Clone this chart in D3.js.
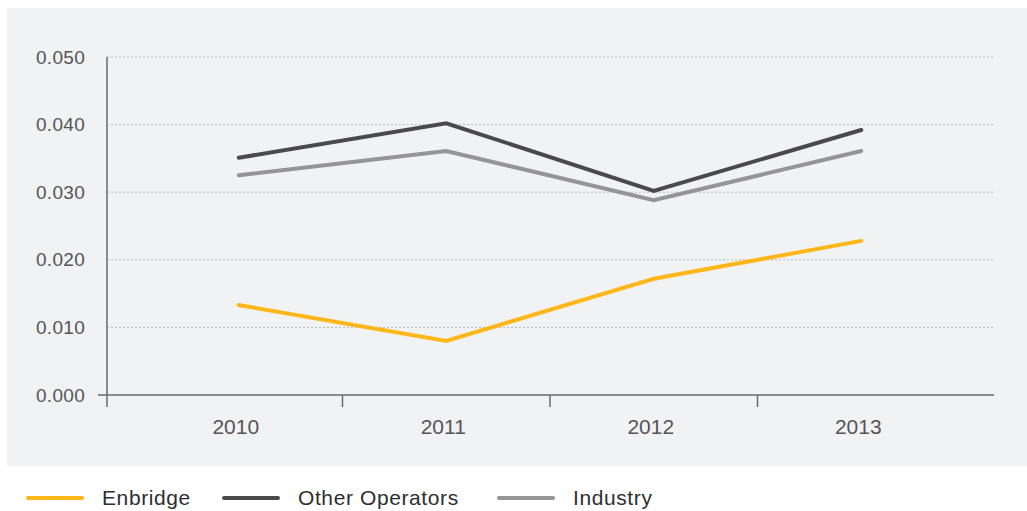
<!DOCTYPE html>
<html>
<head>
<meta charset="utf-8">
<script src="https://cdn.jsdelivr.net/npm/d3@7"></script>
<style>
  html, body { margin: 0; padding: 0; background: #ffffff; }
  svg { display: block; font-family: "Liberation Sans", Arial, Helvetica, sans-serif; }
</style>
</head>
<body>
<svg id="chart" width="1027" height="511"></svg>
<script>
// Years on the horizontal axis
const years = ["2010", "2011", "2012", "2013"];

// Rate per series, one value per year
const enbridge = [0.0133, 0.0080, 0.0172, 0.0228];
const otherOperators = [0.0351, 0.0402, 0.0302, 0.0392];
const industry = [0.0325, 0.0361, 0.0288, 0.0361];

// Vertical axis ticks
const yTicks = [0, 0.01, 0.02, 0.03, 0.04, 0.05];

const seriesNames = ["Enbridge", "Other Operators", "Industry"];
const seriesColors = ["#fdb71a", "#4a4a4c", "#959597"];
const series = [enbridge, otherOperators, industry].map((values, i) => ({
  name: seriesNames[i],
  color: seriesColors[i],
  values
}));

const svg = d3.select("#chart");

// Light panel behind the plot
svg.append("rect")
  .attr("x", 7).attr("y", 8)
  .attr("width", 1020).attr("height", 458)
  .attr("fill", "#f1f2f4");

const plotLeft = 107, plotRight = 994, plotTop = 57, plotBottom = 395;

const x = d3.scaleBand().domain(years).range([135, 965]);
const y = d3.scaleLinear().domain([0, 0.05]).range([plotBottom, plotTop]);

// Dotted horizontal gridlines
svg.append("g")
  .selectAll("line")
  .data(yTicks.filter(d => d > 0))
  .join("line")
  .attr("x1", plotLeft).attr("x2", plotRight)
  .attr("y1", d => y(d)).attr("y2", d => y(d))
  .attr("stroke", "#b9babd")
  .attr("stroke-width", 1)
  .attr("stroke-dasharray", "2,2");

// Y axis line and labels
const axisColor = "#6a6a6c";
svg.append("line")
  .attr("x1", plotLeft).attr("x2", plotLeft)
  .attr("y1", plotTop).attr("y2", plotBottom + 12)
  .attr("stroke", axisColor).attr("stroke-width", 1.5);

svg.append("g")
  .selectAll("text")
  .data(yTicks)
  .join("text")
  .attr("x", 85)
  .attr("y", d => y(d))
  .attr("dy", "0.35em")
  .attr("text-anchor", "end")
  .attr("font-size", 19)
  .attr("letter-spacing", "0.3")
  .attr("fill", "#555557")
  .text(d => d3.format(".3f")(d));

// X axis baseline with ticks between years
svg.append("line")
  .attr("x1", 98).attr("x2", plotRight)
  .attr("y1", plotBottom).attr("y2", plotBottom)
  .attr("stroke", axisColor).attr("stroke-width", 1.5);

svg.append("g")
  .selectAll("line")
  .data(years.slice(1))
  .join("line")
  .attr("x1", d => x(d)).attr("x2", d => x(d))
  .attr("y1", plotBottom).attr("y2", plotBottom + 12)
  .attr("stroke", axisColor).attr("stroke-width", 1.5);

svg.append("g")
  .selectAll("text")
  .data(years)
  .join("text")
  .attr("x", d => x(d) + x.bandwidth() / 2 - 3)
  .attr("y", 434)
  .attr("text-anchor", "middle")
  .attr("font-size", 21)
  .attr("fill", "#555557")
  .text(d => d);

// Series lines, drawn so the darkest sits on top
const line = d3.line()
  .x((d, i) => x(years[i]) + x.bandwidth() / 2)
  .y(d => y(d));

svg.append("g")
  .selectAll("path")
  .data([series[2], series[1], series[0]])
  .join("path")
  .attr("d", s => line(s.values))
  .attr("fill", "none")
  .attr("stroke", s => s.color)
  .attr("stroke-width", 4)
  .attr("stroke-linecap", "round")
  .attr("stroke-linejoin", "miter");

// Legend below the panel
const legendX = [28, 224, 499];
const legend = svg.append("g")
  .selectAll("g")
  .data(series)
  .join("g")
  .attr("transform", (d, i) => `translate(${legendX[i]},498)`);

legend.append("line")
  .attr("x1", 0).attr("x2", 54)
  .attr("stroke", d => d.color)
  .attr("stroke-width", 4)
  .attr("stroke-linecap", "round");

legend.append("text")
  .attr("x", 74)
  .attr("dy", "0.35em")
  .attr("font-size", 21)
  .attr("letter-spacing", "0.6")
  .attr("fill", "#2e2e30")
  .text(d => d.name);
</script>
</body>
</html>
